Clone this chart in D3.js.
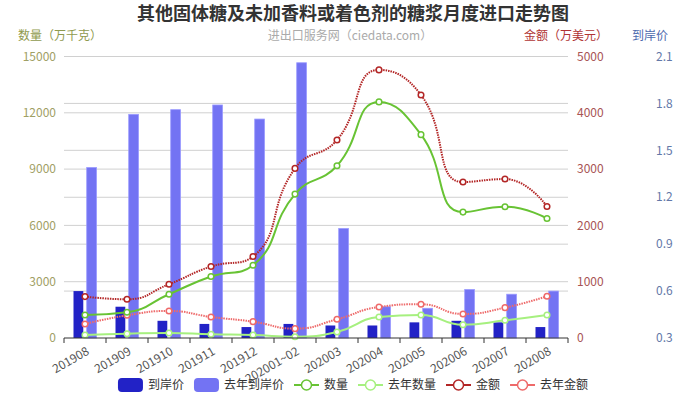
<!DOCTYPE html>
<html>
<head>
<meta charset="utf-8">
<script src="https://cdn.jsdelivr.net/npm/d3@7/dist/d3.min.js"></script>
<style>
  body { margin: 0; background: #fff; }
  svg { font-family: "Noto Sans CJK SC", "Noto Sans", sans-serif; }
</style>
</head>
<body>
<script>
// categories (months)
var months = ["201908", "201909", "201910", "201911", "201912", "202001~02",
  "202003", "202004", "202005", "202006", "202007", "202008"];

// 到岸价 (price) bars
var price = [0.60, 0.50, 0.41, 0.39, 0.37, 0.39, 0.38, 0.38, 0.40, 0.41, 0.40, 0.37];
var priceLastYear = [1.39, 1.73, 1.76, 1.79, 1.70, 2.06, 1.00, 0.50, 0.49, 0.61, 0.58, 0.60];

// 数量 (万千克)
var qty = [1228, 1370, 2332, 3274, 3879, 7669, 9181, 12580, 10836, 6708, 6993, 6370];
var qtyLastYear = [160, 230, 267, 197, 160, 70, 320, 1121, 1228, 710, 943, 1228];

// 金额 (万美元)
var amount = [735, 688, 955, 1269, 1447, 3012, 3517, 4762, 4317, 2770, 2823, 2336];
var amountLastYear = [249, 403, 480, 374, 290, 166, 332, 551, 599, 427, 539, 742];

// axis ticks
var qtyTicks = [0, 3000, 6000, 9000, 12000, 15000];
var amountTicks = [0, 1000, 2000, 3000, 4000, 5000];
var priceTicks = [0.3, 0.6, 0.9, 1.2, 1.5, 1.8, 2.1];

// smooth path like the echarts line (control points clamped to neighbours)
function smoothPath(pts, smooth) {
  var p = d3.path();
  var cpx0, cpy0, cpx1, cpy1, prevX, prevY;
  for (var i = 0; i < pts.length; i++) {
    var x = pts[i][0], y = pts[i][1];
    if (i === 0) {
      p.moveTo(x, y);
      cpx0 = x; cpy0 = y;
    } else {
      var nextCpx0 = x, nextCpy0 = y;
      if (i === pts.length - 1) {
        cpx1 = x; cpy1 = y;
      } else {
        var nextX = pts[i + 1][0], nextY = pts[i + 1][1];
        var vx = nextX - prevX, vy = nextY - prevY;
        var lenPrev = Math.hypot(x - prevX, y - prevY);
        var lenNext = Math.hypot(nextX - x, nextY - y);
        var ratio = lenNext / (lenNext + lenPrev);
        nextCpx0 = x + vx * smooth * ratio;
        nextCpy0 = y + vy * smooth * ratio;
        nextCpx0 = Math.max(Math.min(nextCpx0, Math.max(nextX, x)), Math.min(nextX, x));
        nextCpy0 = Math.max(Math.min(nextCpy0, Math.max(nextY, y)), Math.min(nextY, y));
        vx = nextCpx0 - x; vy = nextCpy0 - y;
        cpx1 = x - vx * lenPrev / lenNext;
        cpy1 = y - vy * lenPrev / lenNext;
        cpx1 = Math.max(Math.min(cpx1, Math.max(prevX, x)), Math.min(prevX, x));
        cpy1 = Math.max(Math.min(cpy1, Math.max(prevY, y)), Math.min(prevY, y));
        vx = x - cpx1; vy = y - cpy1;
        nextCpx0 = x + vx * lenNext / lenPrev;
        nextCpy0 = y + vy * lenNext / lenPrev;
      }
      p.bezierCurveTo(cpx0, cpy0, cpx1, cpy1, x, y);
      cpx0 = nextCpx0; cpy0 = nextCpy0;
    }
    prevX = x; prevY = y;
  }
  return p.toString();
}

function put() {
  var svgWidth = 685;
  var svgHeight = 397;
  var left = 64, right = 568, top = 56.5, bottom = 338;

  var svg = d3.select("body")
    .append("svg")
    .attr("width", svgWidth)
    .attr("height", svgHeight);

  // scales
  var xScale = d3.scaleBand().domain(months).range([left, right]);
  var xSub = d3.scaleBand().domain([0, 1]).range([-11.5, 11.5]).paddingInner(0.26);
  var yQty = d3.scaleLinear().domain([0, 15000]).range([bottom, top]);
  var yAmount = d3.scaleLinear().domain([0, 5000]).range([bottom, top]);
  var yPrice = d3.scaleLinear().domain([0.3, 2.1]).range([bottom, top]);

  function cx(d, i) { return xScale(months[i]) + xScale.bandwidth() / 2; }

  // grid lines (both tick sets)
  var grid = svg.append("g").attr("class", "grid");
  grid.selectAll("line.q")
    .data(qtyTicks.slice(1))
    .enter().append("line")
    .attr("x1", left).attr("x2", right)
    .attr("y1", function(d) { return yQty(d); })
    .attr("y2", function(d) { return yQty(d); })
    .attr("stroke", "#d0d0d0");
  grid.selectAll("line.p")
    .data(priceTicks.slice(1))
    .enter().append("line")
    .attr("x1", left).attr("x2", right)
    .attr("y1", function(d) { return yPrice(d); })
    .attr("y2", function(d) { return yPrice(d); })
    .attr("stroke", "#d0d0d0");

  // bars
  var bars = svg.append("g");
  bars.selectAll("rect.cur")
    .data(price)
    .enter().append("rect")
    .attr("x", function(d, i) { return cx(d, i) + xSub(0); })
    .attr("width", xSub.bandwidth())
    .attr("y", function(d) { return yPrice(d); })
    .attr("height", function(d) { return bottom - yPrice(d); })
    .attr("fill", "#2222c6");
  bars.selectAll("rect.last")
    .data(priceLastYear)
    .enter().append("rect")
    .attr("x", function(d, i) { return cx(d, i) + xSub(1); })
    .attr("width", xSub.bandwidth())
    .attr("y", function(d) { return yPrice(d); })
    .attr("height", function(d) { return bottom - yPrice(d); })
    .attr("fill", "#7373f3")
    .attr("stroke", "#9a9aff")
    .attr("stroke-width", 0.8);

  // lines
  var series = [
    {data: qtyLastYear, y: yQty, color: "#a6f07f", dash: null},
    {data: amountLastYear, y: yAmount, color: "#ee6a6a", dash: "1.5,1"},
    {data: qty, y: yQty, color: "#68c334", dash: null},
    {data: amount, y: yAmount, color: "#b32626", dash: "1.5,1"}
  ];

  series.forEach(function(s) {
    var pts = s.data.map(function(d, i) { return [cx(d, i), s.y(d)]; });

    svg.append("path")
      .attr("d", smoothPath(pts, 0.5))
      .attr("fill", "none")
      .attr("stroke", s.color)
      .attr("stroke-width", 2)
      .attr("stroke-dasharray", s.dash);

    svg.append("g").selectAll("circle")
      .data(s.data)
      .enter().append("circle")
      .attr("cx", function(d, i) { return cx(d, i); })
      .attr("cy", function(d) { return s.y(d); })
      .attr("r", 2.8)
      .attr("fill", "#fff")
      .attr("stroke", s.color)
      .attr("stroke-width", 1.5);
  });

  // x axis
  var xAxis = svg.append("g")
    .attr("transform", "translate(0," + bottom + ")");
  xAxis.append("line")
    .attr("x1", left).attr("x2", right)
    .attr("stroke", "#333");
  xAxis.selectAll("line.tick")
    .data(d3.range(months.length + 1))
    .enter().append("line")
    .attr("x1", function(d) { return left + d * xScale.step(); })
    .attr("x2", function(d) { return left + d * xScale.step(); })
    .attr("y1", 0).attr("y2", 5)
    .attr("stroke", "#333");
  xAxis.selectAll("text")
    .data(months)
    .enter().append("text")
    .attr("transform", function(d) {
      return "translate(" + (xScale(d) + xScale.bandwidth() / 2 + 3) + ",12) rotate(-30)";
    })
    .attr("text-anchor", "end")
    .attr("dy", "0.35em")
    .attr("font-size", 12)
    .attr("fill", "#555")
    .text(function(d) { return d; });

  // left axis labels
  svg.append("g").selectAll("text")
    .data(qtyTicks)
    .enter().append("text")
    .attr("x", 56)
    .attr("y", function(d) { return yQty(d); })
    .attr("dy", "0.35em")
    .attr("text-anchor", "end")
    .attr("font-size", 12)
    .attr("fill", "#9fa065")
    .text(function(d) { return d; });

  // amount axis labels
  svg.append("g").selectAll("text")
    .data(amountTicks)
    .enter().append("text")
    .attr("x", 577)
    .attr("y", function(d) { return yAmount(d); })
    .attr("dy", "0.35em")
    .attr("font-size", 12)
    .attr("fill", "#a85454")
    .text(function(d) { return d; });

  // price axis labels
  svg.append("g").selectAll("text")
    .data(priceTicks)
    .enter().append("text")
    .attr("x", 656)
    .attr("y", function(d) { return yPrice(d); })
    .attr("dy", "0.35em")
    .attr("font-size", 12)
    .attr("fill", "#6378a8")
    .text(function(d) { return d.toFixed(1); });

  // title and axis names
  svg.append("text")
    .attr("x", 353).attr("y", 14)
    .attr("dy", "0.35em")
    .attr("text-anchor", "middle")
    .attr("font-size", 18)
    .attr("font-weight", "bold")
    .attr("fill", "#333")
    .text("其他固体糖及未加香料或着色剂的糖浆月度进口走势图");

  var heads = [
    {x: 60, text: "数量（万千克）", color: "#8f9a4e"},
    {x: 350, text: "进出口服务网（ciedata.com）", color: "#aaa"},
    {x: 566, text: "金额（万美元）", color: "#b03434"},
    {x: 650, text: "到岸价", color: "#4c69ad"}
  ];
  svg.append("g").selectAll("text")
    .data(heads)
    .enter().append("text")
    .attr("x", function(d) { return d.x; })
    .attr("y", 36)
    .attr("dy", "0.35em")
    .attr("text-anchor", "middle")
    .attr("font-size", 12)
    .attr("fill", function(d) { return d.color; })
    .text(function(d) { return d.text; });

  // legend
  var legendItems = [
    {name: "到岸价", type: "bar", color: "#2222c6"},
    {name: "去年到岸价", type: "bar", color: "#7373f3"},
    {name: "数量", type: "line", color: "#68c334"},
    {name: "去年数量", type: "line", color: "#a6f07f"},
    {name: "金额", type: "line", color: "#b32626"},
    {name: "去年金额", type: "line", color: "#ee6a6a"}
  ];
  var legend = svg.append("g");
  var lx = 0;
  legendItems.forEach(function(it) {
    var g = legend.append("g").attr("transform", "translate(" + lx + ",0)");
    if (it.type === "bar") {
      g.append("rect")
        .attr("x", 0).attr("y", -7)
        .attr("width", 25).attr("height", 14)
        .attr("rx", 4)
        .attr("fill", it.color);
    } else {
      g.append("line")
        .attr("x1", 0).attr("x2", 25)
        .attr("stroke", it.color)
        .attr("stroke-width", 2);
      g.append("circle")
        .attr("cx", 12.5).attr("r", 5)
        .attr("fill", "#fff")
        .attr("stroke", it.color)
        .attr("stroke-width", 1.5);
    }
    var t = g.append("text")
      .attr("x", 30)
      .attr("dy", "0.35em")
      .attr("font-size", 12)
      .attr("fill", "#333")
      .text(it.name);
    lx += 30 + t.node().getComputedTextLength() + 10;
  });
  var legendWidth = lx - 10;
  legend.attr("transform", "translate(" + (353 - legendWidth / 2) + ",385)");
}

window.onload = put;
</script>
</body>
</html>
